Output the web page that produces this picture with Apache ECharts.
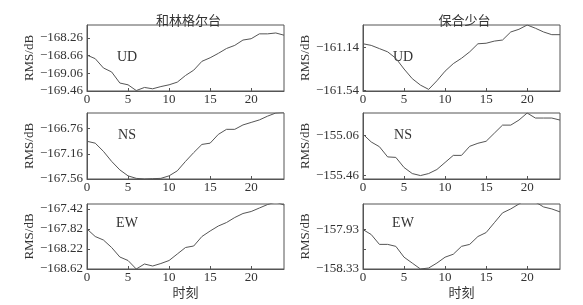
<!DOCTYPE html>
<html>
<head>
<meta charset="utf-8">
<script src="https://cdn.jsdelivr.net/npm/echarts@6/dist/echarts.min.js"></script>
<style>
  html, body { margin: 0; padding: 0; background: #fff; }
  #chart { width: 583px; height: 305px; }
</style>
</head>
<body>
<div id="chart"></div>
<script>
// 时刻 0-24
const hours = [0, 1, 2, 3, 4, 5, 6, 7, 8, 9, 10, 11, 12, 13, 14, 15, 16, 17, 18, 19, 20, 21, 22, 23, 24];
const xTicks = [0, 5, 10, 15, 20];

// 和林格尔台
const hlUD = [-168.65, -168.73, -168.94, -169.03, -169.28, -169.32, -169.45, -169.38, -169.41, -169.36, -169.32, -169.26, -169.11,
    -168.99, -168.79, -168.71, -168.61, -168.50, -168.43, -168.31, -168.28, -168.17, -168.17, -168.15, -168.20];
const hlNS = [-166.96, -166.99, -167.12, -167.28, -167.415, -167.51, -167.55, -167.56, -167.555, -167.55, -167.51, -167.43, -167.28,
    -167.14, -167.01, -166.99, -166.85, -166.77, -166.77, -166.70, -166.66, -166.62, -166.56, -166.51, -166.50];
const hlEW = [-167.82, -167.97, -168.04, -168.19, -168.38, -168.45, -168.62, -168.52, -168.56, -168.51, -168.45, -168.32, -168.19,
    -168.16, -167.97, -167.86, -167.76, -167.69, -167.59, -167.51, -167.47, -167.40, -167.33, -167.28, -167.34];

// 保合少台
const bhUD = [-161.105, -161.12, -161.15, -161.18, -161.24, -161.34, -161.43, -161.49, -161.53, -161.45, -161.36, -161.29, -161.24,
    -161.18, -161.105, -161.10, -161.08, -161.07, -160.995, -160.97, -160.93, -160.96, -160.995, -161.02, -161.02];
const bhNS = [-155.05, -155.127, -155.174, -155.275, -155.28, -155.38, -155.44, -155.46, -155.44, -155.40, -155.33, -155.26, -155.26,
    -155.17, -155.14, -155.12, -155.04, -154.96, -154.96, -154.91, -154.84, -154.89, -154.89, -154.89, -154.91];
const bhEW = [-157.93, -157.98, -158.08, -158.08, -158.10, -158.21, -158.27, -158.33, -158.32, -158.27, -158.21, -158.18, -158.10,
    -158.08, -158.00, -157.96, -157.86, -157.76, -157.72, -157.67, -157.62, -157.65, -157.70, -157.72, -157.75];

// y 轴刻度
const hlUDTicks = [-169.46, -169.06, -168.66, -168.26];
const hlNSTicks = [-167.56, -167.16, -166.76];
const hlEWTicks = [-168.62, -168.22, -167.82, -167.42];
const bhUDTicks = [-161.54, -161.14];
const bhNSTicks = [-155.46, -155.06];
const bhEWTicks = [-158.33, -157.93];
const bhEWMinor = [-158.33, -158.13, -157.93];

const stations = ['和林格尔台', '保合少台'];
const comps = ['UD', 'NS', 'EW'];

const panels = [
    { data: hlUD, ticks: hlUDTicks, tickMarks: hlUDTicks, min: -169.46, max: -167.97 },
    { data: hlNS, ticks: hlNSTicks, tickMarks: hlNSTicks, min: -167.56, max: -166.51 },
    { data: hlEW, ticks: hlEWTicks, tickMarks: hlEWTicks, min: -168.62, max: -167.32 },
    { data: bhUD, ticks: bhUDTicks, tickMarks: bhUDTicks, min: -161.545, max: -160.93 },
    { data: bhNS, ticks: bhNSTicks, tickMarks: bhNSTicks, min: -155.494, max: -154.84 },
    { data: bhEW, ticks: bhEWTicks, tickMarks: bhEWMinor, min: -158.33, max: -157.67 }
];

const serif = '"Liberation Serif", "Times New Roman", serif';
const cjk = '"Noto Sans CJK SC", sans-serif';
const textColor = '#333';
const lineColor = '#555';

const colLeft = [87, 363];
const plotW = 197;
const rowTop = [25, 113, 204];
const rowH = [66, 66, 65];

const chart = echarts.init(document.getElementById('chart'));

const grids = [], xAxes = [], yAxes = [], series = [], graphics = [];
panels.forEach((p, i) => {
    const col = Math.floor(i / 3);
    const row = i % 3;
    grids.push({
        left: colLeft[col], top: rowTop[row], width: plotW, height: rowH[row],
        show: true, borderColor: lineColor, borderWidth: 1, backgroundColor: 'transparent'
    });
    xAxes.push({
        gridIndex: i, type: 'value', min: 0, max: 24,
        axisLine: { show: true, lineStyle: { color: lineColor } },
        axisTick: { inside: true, length: 3, customValues: xTicks, lineStyle: { color: lineColor } },
        axisLabel: { customValues: xTicks, color: textColor, fontFamily: serif, fontSize: 13, margin: 2 },
        splitLine: { show: false },
        name: row === 2 ? '时刻' : '',
        nameLocation: 'middle', nameGap: 17,
        nameTextStyle: { color: textColor, fontFamily: cjk, fontSize: 13 }
    });
    yAxes.push({
        gridIndex: i, type: 'value', min: p.min, max: p.max,
        axisLine: { show: true, lineStyle: { color: lineColor } },
        axisTick: { inside: true, length: 3, customValues: p.tickMarks, lineStyle: { color: lineColor } },
        axisLabel: {
            customValues: p.ticks, color: textColor, fontFamily: serif, fontSize: 13, margin: 4,
            formatter: v => '\u2212' + Math.abs(v).toFixed(2)
        },
        splitLine: { show: false },
        name: 'RMS/dB', nameLocation: 'middle', nameGap: col === 0 ? 51 : 49,
        nameTextStyle: { color: textColor, fontFamily: serif, fontSize: 13 }
    });
    series.push({
        type: 'line', xAxisIndex: i, yAxisIndex: i,
        data: hours.map((h, k) => [h, p.data[k]]),
        showSymbol: false, clip: true,
        lineStyle: { color: lineColor, width: 1 }
    });
    graphics.push({
        type: 'text',
        x: colLeft[col] + 40, y: rowTop[row] + (row === 0 ? 32 : row === 1 ? 22 : 19),
        style: { text: comps[row], fill: textColor, font: '14px ' + serif, textAlign: 'center', textVerticalAlign: 'middle' }
    });
});

const option = {
    backgroundColor: '#fff',
    animation: false,
    title: stations.map((s, c) => ({
        text: s, left: colLeft[c] + plotW / 2 - 2, top: 9, textAlign: 'center',
        textStyle: { color: textColor, fontFamily: cjk, fontSize: 13, fontWeight: 'normal' }
    })),
    grid: grids,
    xAxis: xAxes,
    yAxis: yAxes,
    series: series,
    graphic: graphics
};
chart.setOption(option);
window.addEventListener('resize', () => chart.resize());
</script>
</body>
</html>
